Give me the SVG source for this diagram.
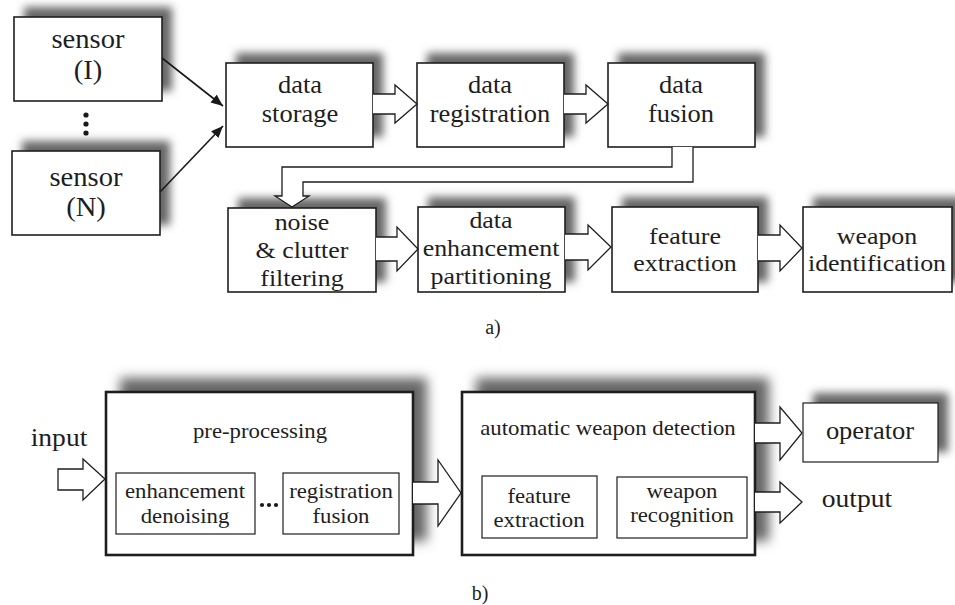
<svg xmlns="http://www.w3.org/2000/svg" width="955" height="605" viewBox="0 0 955 605">
  <defs>
    <filter id="soft" x="-20%" y="-30%" width="140%" height="160%">
      <feGaussianBlur stdDeviation="4"/>
    </filter>
    <filter id="softBig" x="-20%" y="-30%" width="140%" height="160%">
      <feGaussianBlur stdDeviation="6"/>
    </filter>
    <marker id="head" viewBox="0 0 12 10" refX="12" refY="5" markerWidth="12" markerHeight="10" markerUnits="userSpaceOnUse" orient="auto">
      <path d="M0,0 L12,5 L0,10 Z" fill="#1a1a1a"/>
    </marker>
  </defs>
  <style>
    .box { fill: #fff; stroke: #1e1e1e; stroke-width: 1.6; }
    .big { fill: #fff; stroke: #1e1e1e; stroke-width: 2.6; }
    .inner { fill: #fff; stroke: #1e1e1e; stroke-width: 1.2; }
    .sh { fill: #666; filter: url(#soft); }
    .shb { fill: #666; filter: url(#softBig); }
    .hollow { fill: #fff; stroke: #1e1e1e; stroke-width: 1.3; stroke-linejoin: miter; }
    .line { fill: none; stroke: #1a1a1a; stroke-width: 1.6; }
    text { font-family: "Liberation Serif", "Times New Roman", serif; fill: #1e1e1e; text-anchor: middle; }
    .f24 { font-size: 24px; }
    .f25 { font-size: 25px; }
    .f27 { font-size: 27px; }
    .f21 { font-size: 21.5px; }
    .f26 { font-size: 26px; }
    .lab { font-size: 20px; }
  </style>

  <rect width="955" height="605" fill="#fff"/>

  <!-- drop shadows behind the boxes -->
  <g id="shadows">
    <rect class="sh" x="24" y="7" width="148" height="84"/>
    <rect class="sh" x="22" y="141" width="148" height="84"/>
    <rect class="sh" x="236" y="53" width="147" height="84"/>
    <rect class="sh" x="427" y="53" width="147" height="84"/>
    <rect class="sh" x="618" y="53" width="147" height="84"/>
    <rect class="sh" x="238" y="198" width="148" height="84"/>
    <rect class="sh" x="428" y="197" width="147" height="85"/>
    <rect class="sh" x="622" y="197" width="146" height="85"/>
    <rect class="sh" x="813" y="197" width="149" height="85"/>
    <rect class="shb" x="120" y="378" width="307" height="163"/>
    <rect class="shb" x="476" y="378" width="293" height="163"/>
    <rect class="sh" x="813" y="393" width="135" height="59"/>
  </g>

  <!-- part a) -->
  <g id="sensor-1">
    <rect class="box" x="14" y="17" width="148" height="84"/>
    <text class="f27" transform="translate(88 0) scale(1.06 1)"><tspan x="0" y="48">sensor</tspan><tspan x="0" y="79">(I)</tspan></text>
  </g>
  <g id="sensor-dots" fill="#1a1a1a">
    <circle cx="86" cy="115" r="2.6"/>
    <circle cx="86" cy="124" r="2.6"/>
    <circle cx="86" cy="133" r="2.6"/>
  </g>
  <g id="sensor-n">
    <rect class="box" x="12" y="151" width="148" height="84"/>
    <text class="f27" transform="translate(86 0) scale(1.06 1)"><tspan x="0" y="186">sensor</tspan><tspan x="0" y="216">(N)</tspan></text>
  </g>
  <g id="data-storage">
    <rect class="box" x="226" y="63" width="147" height="84"/>
    <text class="f25" transform="translate(300 0) scale(1.06 1)"><tspan x="0" y="93">data</tspan><tspan x="0" y="122">storage</tspan></text>
  </g>
  <g id="data-registration">
    <rect class="box" x="417" y="63" width="147" height="84"/>
    <text class="f25" transform="translate(490 0) scale(1.06 1)"><tspan x="0" y="93">data</tspan><tspan x="0" y="122">registration</tspan></text>
  </g>
  <g id="data-fusion">
    <rect class="box" x="608" y="63" width="147" height="84"/>
    <text class="f25" transform="translate(681 0) scale(1.06 1)"><tspan x="0" y="93">data</tspan><tspan x="0" y="122">fusion</tspan></text>
  </g>
  <g id="noise-filtering">
    <rect class="box" x="228" y="208" width="148" height="84"/>
    <text class="f24" transform="translate(302 0) scale(1.08 1)"><tspan x="0" y="230">noise</tspan><tspan x="0" y="258">&amp; clutter</tspan><tspan x="0" y="286">filtering</tspan></text>
  </g>
  <g id="data-enhancement">
    <rect class="box" x="418" y="207" width="147" height="85"/>
    <text class="f24" transform="translate(491 0) scale(1.08 1)"><tspan x="0" y="228">data</tspan><tspan x="0" y="256">enhancement</tspan><tspan x="0" y="284">partitioning</tspan></text>
  </g>
  <g id="feature-extraction">
    <rect class="box" x="612" y="207" width="146" height="85"/>
    <text class="f24" transform="translate(685 0) scale(1.08 1)"><tspan x="0" y="244">feature</tspan><tspan x="0" y="271">extraction</tspan></text>
  </g>
  <g id="weapon-identification">
    <rect class="box" x="803" y="207" width="149" height="85"/>
    <text class="f24" transform="translate(877 0) scale(1.08 1)"><tspan x="0" y="244">weapon</tspan><tspan x="0" y="271">identification</tspan></text>
  </g>
  <text class="lab" x="493" y="334">a)</text>

  <!-- part b) -->
  <g id="pre-processing">
    <rect class="big" x="106" y="392" width="307" height="163"/>
    <text class="f21" transform="translate(260 0) scale(1.06 1)"><tspan x="0" y="438">pre-processing</tspan></text>
    <g id="enhancement-denoising">
      <rect class="inner" x="116" y="473" width="139" height="61"/>
      <text class="f21" transform="translate(185 0) scale(1.06 1)"><tspan x="0" y="498">enhancement</tspan><tspan x="0" y="523">denoising</tspan></text>
    </g>
    <g id="pre-dots" fill="#1a1a1a">
      <circle cx="262" cy="505" r="2.1"/>
      <circle cx="269" cy="505" r="2.1"/>
      <circle cx="276" cy="505" r="2.1"/>
    </g>
    <g id="registration-fusion">
      <rect class="inner" x="283" y="473" width="116" height="61"/>
      <text class="f21" transform="translate(341 0) scale(1.06 1)"><tspan x="0" y="498">registration</tspan><tspan x="0" y="523">fusion</tspan></text>
    </g>
  </g>
  <g id="weapon-detection">
    <rect class="big" x="462" y="392" width="293" height="163"/>
    <text class="f21" transform="translate(608 0) scale(1.06 1)"><tspan x="0" y="435">automatic weapon detection</tspan></text>
    <g id="feature-extraction-b">
      <rect class="inner" x="482" y="476" width="115" height="62"/>
      <text class="f21" transform="translate(539 0) scale(1.06 1)"><tspan x="0" y="503">feature</tspan><tspan x="0" y="527">extraction</tspan></text>
    </g>
    <g id="weapon-recognition">
      <rect class="inner" x="617" y="477" width="130" height="61"/>
      <text class="f21" transform="translate(682 0) scale(1.06 1)"><tspan x="0" y="498">weapon</tspan><tspan x="0" y="522">recognition</tspan></text>
    </g>
  </g>
  <g id="operator">
    <rect class="inner" x="803" y="403" width="135" height="59"/>
    <text class="f25" transform="translate(870 0) scale(1.06 1)"><tspan x="0" y="439">operator</tspan></text>
  </g>
  <g id="io-labels">
    <text class="f26" transform="translate(59 0) scale(1.06 1)"><tspan x="0" y="446">input</tspan></text>
    <text class="f26" transform="translate(857 0) scale(1.06 1)"><tspan x="0" y="507">output</tspan></text>
  </g>
  <text class="lab" x="480" y="600">b)</text>

  <!-- connectors -->
  <g id="connectors">
    <line class="line" x1="162" y1="58" x2="223" y2="106" marker-end="url(#head)"/>
    <line class="line" x1="160" y1="192" x2="223" y2="126" marker-end="url(#head)"/>

    <path class="hollow" d="M373,94 H395 V85 L417,104 L395,123 V114 H373"/>
    <path class="hollow" d="M564,94 H586 V85 L608,104 L586,123 V114 H564"/>

    <path class="hollow" d="M672,147 V167 H282 V196 H275 L292,207 L309,196 H303 V182 H693 V147"/>

    <path class="hollow" d="M376,237 H397 V227 L418,249 L397,271 V261 H376"/>
    <path class="hollow" d="M565,234 H588 V225 L611,247 L588,270 V260 H565"/>
    <path class="hollow" d="M758,235 H780 V225 L802,248 L780,271 V261 H758"/>

    <path class="hollow" d="M58,469 H83 V459 L105,479 L83,500 V490 H58 Z"/>
    <path class="hollow" d="M413,482 H438 V460 L461,493 L438,526 V504 H413"/>
    <path class="hollow" d="M755,423 H780 V407 L802,433 L780,460 V443 H755"/>
    <path class="hollow" d="M755,492 H780 V482 L802,502 L780,523 V512 H755"/>
  </g>
</svg>
